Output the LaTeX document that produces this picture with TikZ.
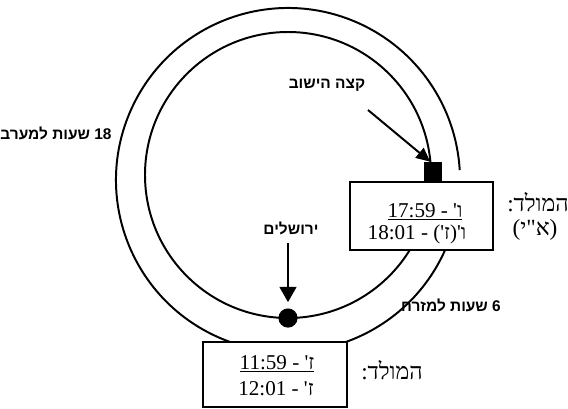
\documentclass[tikz,border=0pt]{standalone}
\usepackage{fontspec}
\setmainfont{Liberation Serif}
\newfontfamily\hebserif[Script=Hebrew]{Liberation Serif}
\newfontfamily\hebhand[Script=Hebrew]{Liberation Sans}
\TeXXeTstate=1
\usetikzlibrary{arrows.meta}

\begin{document}
\begin{tikzpicture}[x=0.025cm, y=-0.025cm,
    ring/.style={line width=1.4pt},
    molbox/.style={draw, line width=1pt, fill=white, inner sep=0pt},
    boxtext/.style={font=\hebserif\fontsize{15}{17}\selectfont, inner sep=0pt, anchor=base},
    sidetext/.style={font=\hebserif\fontsize{16.5}{18}\selectfont, inner sep=0pt},
    hand/.style={font=\hebhand\fontsize{11}{13}\selectfont\bfseries, inner sep=0pt},
    pointer/.style={line width=1.4pt, -{Triangle[length=3.8mm, width=4.2mm]}}]
    \useasboundingbox (0,0) rectangle (568,409);

    % Rings
    \draw[ring] (288,180) ++(24:172) arc[start angle=24, end angle=356.7, radius=172];
    \draw[ring] (288,175) circle[radius=143];

    % Boxes
    \node[molbox, minimum width=3.575cm, minimum height=1.7cm] (mol1) at (421.5,216) {};
    \node[boxtext] (mol1top) at (425,217) {\underline{\beginR ו' - \beginL 17:59\endL\endR}};
    \node[boxtext] (mol1bot) at (417,239) {\beginR ו'(ז') - \beginL 18:01\endL\endR};
    \node[molbox, minimum width=3.6cm, minimum height=1.625cm] (mol2) at (275,374.5) {};
    \node[boxtext] (mol2top) at (277,369) {\underline{\beginR ז' - \beginL 11:59\endL\endR}};
    \node[boxtext] (mol2bot) at (276,395) {\beginR ז' - \beginL 12:01\endL\endR};

    % Side labels
    \node[sidetext] (molad1) at (538,202) {\beginR המולד:\endR};
    \node[sidetext] (israel) at (535,230) {\beginR (א"י)\endR};
    \node[sidetext] (molad2) at (392,370) {\beginR המולד:\endR};

    % Marks on the ring
    \node[fill, minimum width=0.425cm, minimum height=0.5cm, inner sep=0pt] (edgesq) at (433,172) {};
    \node[fill, circle, minimum size=0.48cm, inner sep=0pt] (jer) at (288,318) {};

    % Handwritten labels
    \node[hand] (edge) at (327,85) {\beginR קצה הישוב\endR};
    \node[hand] (jerlabel) at (291,228) {\beginR ירושלים\endR};
    \node[hand] (west) at (56,133) {\beginR\beginL 18\endL{} שעות למערב\endR};
    \node[hand] (east) at (451,305) {\beginR\beginL 6\endL{} שעות למזרח\endR};

    % Arrows
    \coordinate (edgetail) at (368,110);
    \coordinate (jertail) at (288,243);
    \draw[pointer, -{Triangle[length=3.5mm, width=3.2mm]}] (edgetail) -- ([xshift=1.5mm]edgesq.north west);
    \draw[pointer, shorten >=1.5mm] (jertail) -- (jer.north);
\end{tikzpicture}
\end{document}
